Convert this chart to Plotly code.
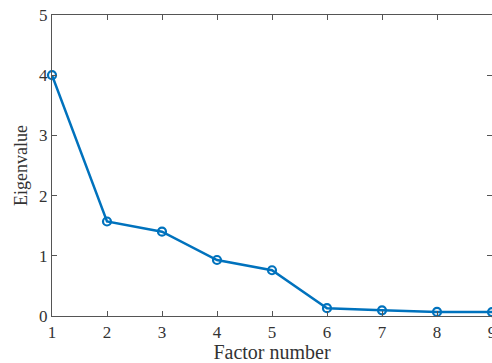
import plotly.graph_objects as go

factors = [1, 2, 3, 4, 5, 6, 7, 8, 9]
eigenvalues = [4.0, 1.57, 1.40, 0.93, 0.76, 0.13, 0.095, 0.068, 0.066]
x_ticks = [1, 2, 3, 4, 5, 6, 7, 8, 9]
y_ticks = [0, 1, 2, 3, 4, 5]

fig = go.Figure()
fig.add_trace(go.Scatter(
    x=factors, y=eigenvalues, mode="lines+markers",
    line=dict(color="#0072BD", width=2.5),
    marker=dict(symbol="circle-open", size=8, color="#0072BD", line=dict(width=2.2)),
    cliponaxis=False,
))

fam = "Liberation Serif, Times New Roman, serif"
font = dict(family=fam, size=17, color="#333333")
axis_common = dict(
    showgrid=False, zeroline=False, showline=True, linecolor="#555555", linewidth=1.2,
    ticks="inside", ticklen=5, tickcolor="#555555", tickwidth=1, mirror="ticks",
    tickfont=font, ticklabeloverflow="allow", automargin=False,
)
fig.update_layout(
    width=492, height=363,
    margin=dict(l=52, r=0, t=15, b=47),
    paper_bgcolor="white", plot_bgcolor="white",
    showlegend=False,
    xaxis=dict(range=[1, 9.0], tickvals=x_ticks,
               title=dict(text="Factor number", font=dict(family=fam, size=20, color="#333333"), standoff=0),
               **axis_common),
    yaxis=dict(range=[0, 5], tickvals=y_ticks,
               title=dict(text="Eigenvalue", font=dict(family=fam, size=18, color="#333333"), standoff=6),
               **axis_common),
)
fig.write_html("out.html")
